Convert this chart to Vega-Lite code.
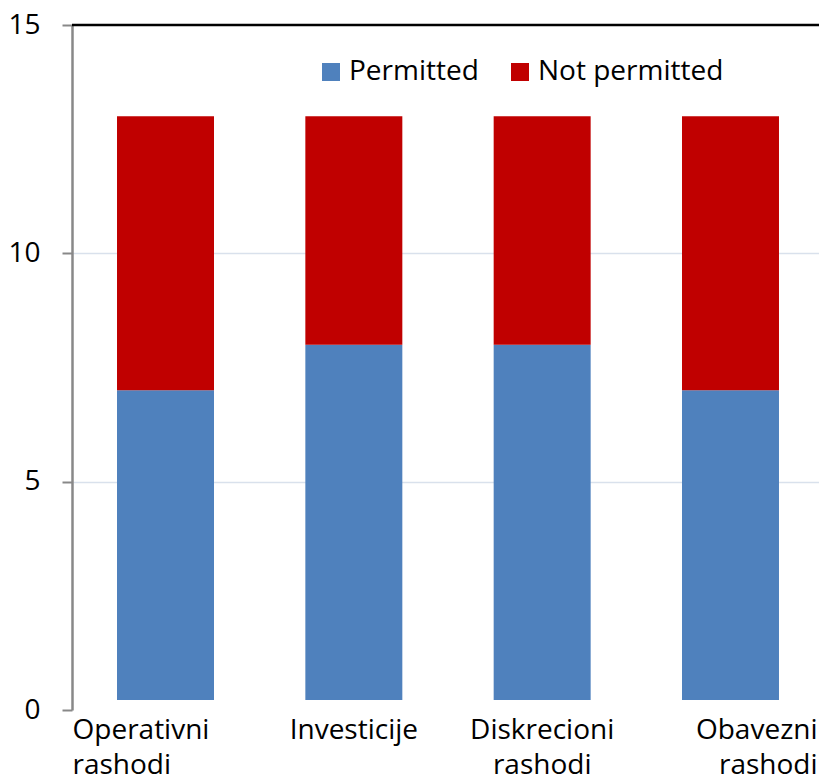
{
  "$schema": "https://vega.github.io/schema/vega-lite/v6.json",
  "width": 747,
  "height": 675,
  "autosize": "none",
  "padding": {"left": 72, "top": 25, "right": 0, "bottom": 80},
  "background": "white",
  "config": {"view": {"stroke": null}, "font": "Open Sans"},
  "layer": [
    {
      "data": {
        "values": [
          {"category": "Operativni rashodi", "status": "Permitted", "count": 7},
          {"category": "Operativni rashodi", "status": "Not permitted", "count": 6},
          {"category": "Investicije", "status": "Permitted", "count": 8},
          {"category": "Investicije", "status": "Not permitted", "count": 5},
          {"category": "Diskrecioni rashodi", "status": "Permitted", "count": 8},
          {"category": "Diskrecioni rashodi", "status": "Not permitted", "count": 5},
          {"category": "Obavezni rashodi", "status": "Permitted", "count": 7},
          {"category": "Obavezni rashodi", "status": "Not permitted", "count": 6}
        ]
      },
      "mark": {"type": "bar", "clip": true},
      "encoding": {
        "x": {
          "field": "category",
          "type": "nominal",
          "sort": ["Operativni rashodi", "Investicije", "Diskrecioni rashodi", "Obavezni rashodi"],
          "scale": {"paddingInner": 0.485, "paddingOuter": 0.239, "range": [0, 752]},
          "axis": {
            "title": null,
            "domain": false,
            "ticks": false,
            "labelAngle": 0,
            "labelFontSize": 28,
            "labelColor": "black",
            "labelPadding": 16,
            "labelLineHeight": 35,
            "labelBaseline": "top",
            "labelExpr": "split(datum.label, ' ')",
            "labelAlign": {"condition": [
              {"test": "datum.value == 'Operativni rashodi'", "value": "left"},
              {"test": "datum.value == 'Obavezni rashodi'", "value": "right"}
            ], "value": "center"},
            "labelOffset": {"condition": [
              {"test": "datum.value == 'Operativni rashodi'", "value": -93},
              {"test": "datum.value == 'Obavezni rashodi'", "value": 87}
            ], "value": 0}
          }
        },
        "y": {
          "field": "count",
          "type": "quantitative",
          "stack": "zero",
          "scale": {"domain": [0, 15], "range": [685, 0], "nice": false},
          "axis": {
            "title": null,
            "values": [0, 5, 10, 15],
            "labelFontSize": 28,
            "labelColor": "black",
            "labelPadding": 22,
            "tickSize": 10,
            "tickColor": "#888888",
            "tickWidth": 2,
            "domainColor": "#888888",
            "domainWidth": 2.5,
            "grid": true,
            "gridColor": {"condition": {"test": "datum.value == 0 || datum.value == 15", "value": null}, "value": "#d9e1ec"},
            "gridWidth": 1.5
          }
        },
        "color": {
          "field": "status",
          "type": "nominal",
          "scale": {"domain": ["Permitted", "Not permitted"], "range": ["#4f81bd", "#c00000"]},
          "legend": {
            "title": null,
            "orient": "none",
            "legendX": 245,
            "legendY": 33,
            "direction": "horizontal",
            "symbolType": "square",
            "symbolSize": 324,
            "symbolStrokeWidth": 0,
            "labelFontSize": 28,
            "labelColor": "black",
            "labelOffset": 4,
            "labelLimit": 400,
            "columnPadding": 27
          }
        },
        "order": {"field": "status", "sort": "descending"}
      }
    },
    {
      "data": {"values": [{"top": 15}]},
      "mark": {"type": "rule", "color": "black", "strokeWidth": 2.5},
      "encoding": {"y": {"field": "top", "type": "quantitative"}}
    }
  ]
}
